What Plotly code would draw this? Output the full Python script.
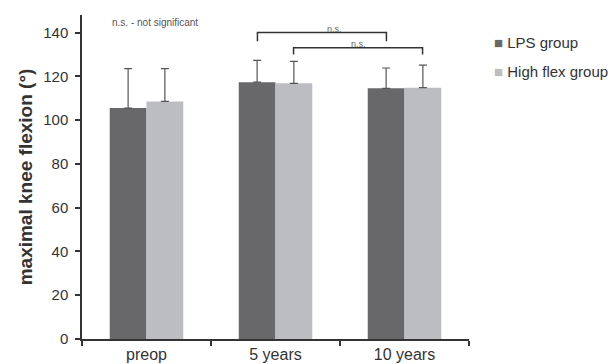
import plotly.graph_objects as go

categories = ["preop", "5 years", "10 years"]
lps_values = [105.5, 117.3, 114.5]
lps_sd = [18.0, 10.0, 9.3]
hf_values = [108.5, 116.8, 114.8]
hf_sd = [15.0, 10.0, 10.3]
y_ticks = [0, 20, 40, 60, 80, 100, 120, 140]
series_names = ["LPS group", "High flex group"]
series_colors = ["#68686b", "#bcbdc1"]

FONT = "Arial, Liberation Sans, sans-serif"

fig = go.Figure()
for name, vals, sd, col in zip(series_names, [lps_values, hf_values], [lps_sd, hf_sd], series_colors):
    fig.add_trace(go.Bar(
        x=categories, y=vals, name=name,
        marker=dict(color=col, line=dict(width=0)),
        error_y=dict(type="data", symmetric=False, array=sd, arrayminus=[0] * len(sd),
                     color="#555555", thickness=1.2, width=4),
        showlegend=False,
    ))

# significance brackets (x as category index +/- offset)
off = 0.14
brackets = [
    (1 - off, 2 - off, 140, 136, 0.1),
    (1 + off, 2 + off, 133, 130, 0.0),
]
for x0, x1, ytop, ylow, shift in brackets:
    fig.add_shape(type="path",
                  path=f"M {x0} {ylow} L {x0} {ytop} L {x1} {ytop} L {x1} {ylow}",
                  xref="x", yref="y", line=dict(color="#333333", width=1.5))
    fig.add_annotation(x=(x0 + x1) / 2 + shift, y=ytop, xref="x", yref="y",
                       text="n.s.", showarrow=False, yanchor="bottom", yshift=-3,
                       font=dict(size=9, color="#666666", family=FONT))

fig.add_annotation(x=0.072, y=144.5, xref="paper", yref="y",
                   text="n.s. - not significant", showarrow=False,
                   xanchor="left", yanchor="middle",
                   font=dict(size=10, color="#555555", family=FONT))

# legend drawn as text annotations
for i, (name, col) in enumerate(zip(series_names, series_colors)):
    fig.add_annotation(x=1.06, y=0.914 - i * 0.087, xref="paper", yref="paper",
                       text=f'<span style="color:{col}">■</span> {name}',
                       showarrow=False, xanchor="left", yanchor="middle",
                       font=dict(size=15, color="#333333", family=FONT))

fig.update_layout(
    width=616, height=364,
    margin=dict(l=74, r=155, t=7, b=33, autoexpand=False),
    plot_bgcolor="white", paper_bgcolor="white",
    barmode="group", bargap=0.43, bargroupgap=0,
    font=dict(family=FONT, color="#333333"),
    showlegend=False,
)
fig.update_xaxes(
    showline=True, linecolor="#333333", linewidth=1.5,
    ticks="outside", ticklen=5, tickcolor="#333333", tickwidth=1.5,
    tickson="boundaries", tickfont=dict(size=16, color="#333333", family=FONT),
    showgrid=False, range=[-0.5, 2.5], automargin=False,
)
fig.update_yaxes(
    range=[0, 148], tickvals=y_ticks,
    showline=True, linecolor="#333333", linewidth=1.5,
    ticks="outside", ticklen=5, tickcolor="#333333", tickwidth=1.5,
    ticklabelstandoff=4,
    tickfont=dict(size=15, color="#333333", family=FONT), showgrid=False, zeroline=False,
    automargin=False,
    title=dict(text="<b>maximal knee flexion (°)</b>", standoff=6,
               font=dict(size=19, color="#333333", family=FONT)),
)

fig.write_html("out.html")
